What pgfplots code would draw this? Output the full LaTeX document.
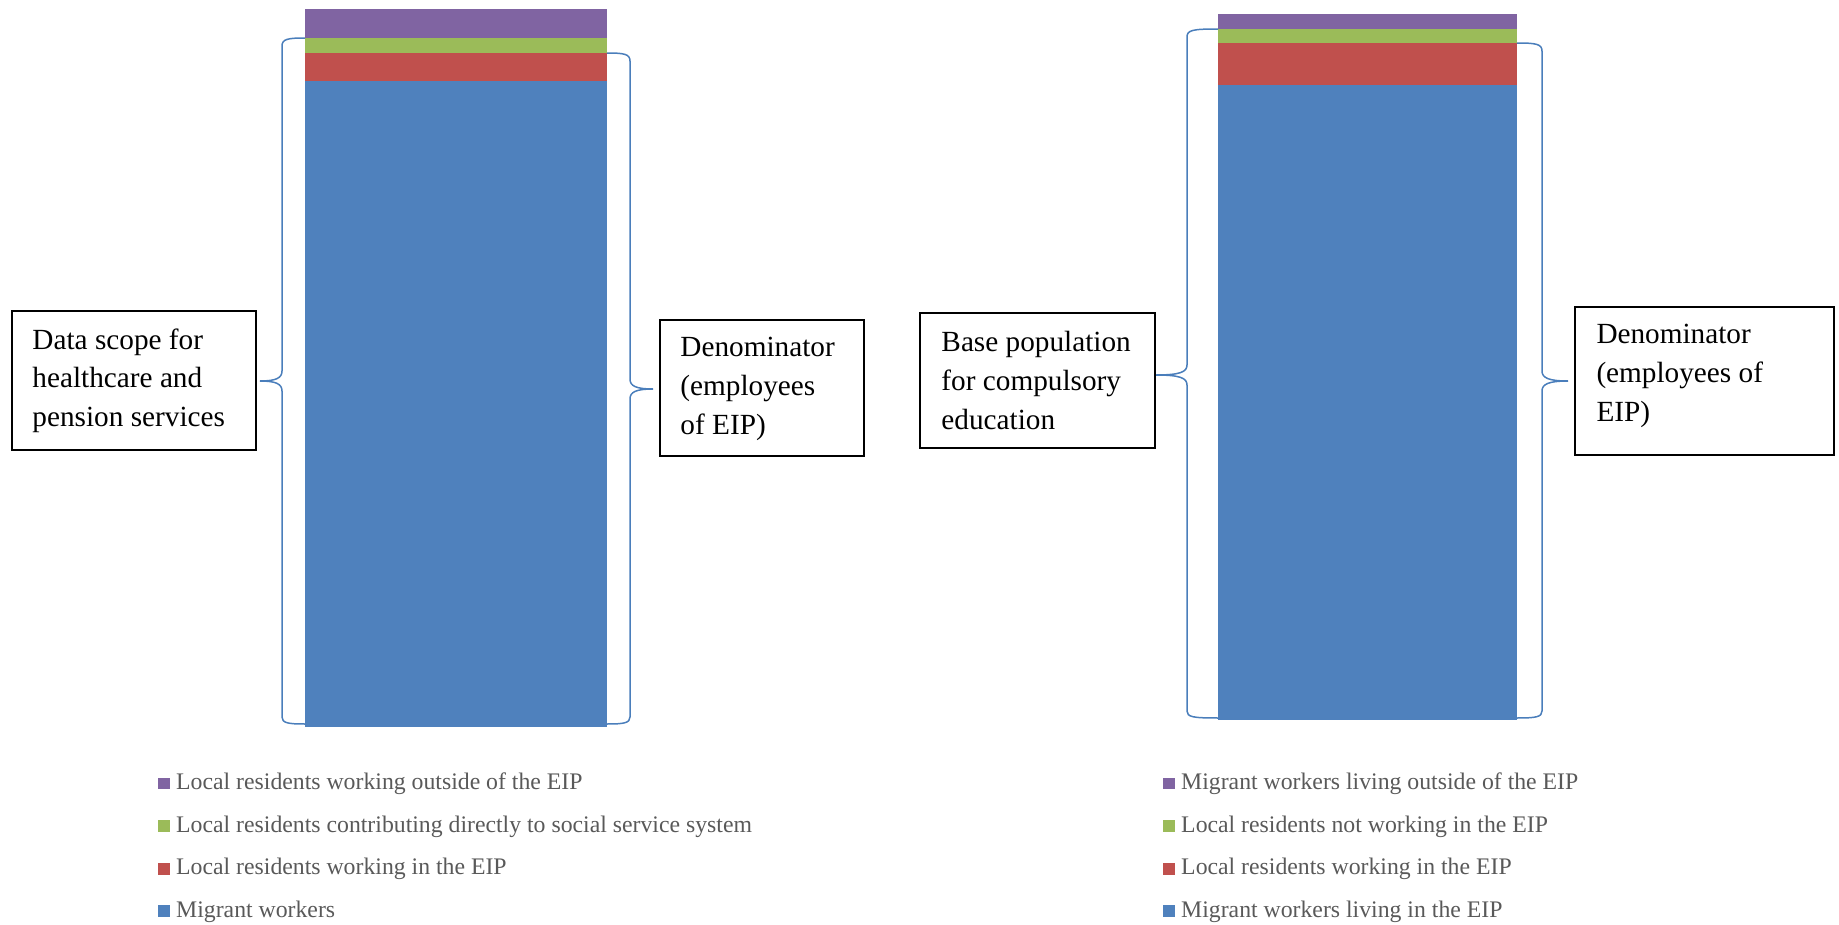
\documentclass[border=0pt]{standalone}
\usepackage{fontspec}
\setmainfont{Liberation Serif}
\usepackage{pgfplots}
\pgfplotsset{compat=1.18}

\definecolor{cPurple}{HTML}{8064A2}
\definecolor{cGreen}{HTML}{9BBB59}
\definecolor{cRed}{HTML}{C0504D}
\definecolor{cBlue}{HTML}{4F81BD}
\definecolor{cLegend}{HTML}{595959}
\definecolor{cBrace}{HTML}{4A7EBB}

\pgfplotsset{
  stackbar/.style={
    ybar stacked, hide axis, scale only axis, clip=false,
    xmin=-0.5, xmax=0.5, ymin=0, ymax=100,
    reverse legend,
    legend image code/.code={\fill[##1,draw=none] (0pt,-2.35pt) rectangle (4.7pt,2.35pt);},
    legend style={draw=none, fill=none, inner sep=0pt, row sep=8.05pt, column sep=2.4pt,
      anchor=north west, legend cell align=left,
      nodes={inner sep=0pt, text height=7pt, text depth=2pt,
        font=\fontsize{9.5}{11}\selectfont, text=cLegend}},
  },
}

\begin{document}
\begin{tikzpicture}
\useasboundingbox (0,0) rectangle (735.6pt,-369.6pt);

% ---- healthcare and pension services ----
\begin{axis}[stackbar, at={(122pt,-290.8pt)}, anchor=south west,
  width=120.8pt, height=287.2pt, bar width=120.8pt,
  legend style={at={(-0.4868,-0.0622)}}]
\addplot[fill=cBlue, draw=none] coordinates {(0,90.0)};
\addlegendentry{Migrant workers}
\addplot[fill=cRed, draw=none] coordinates {(0,3.9)};
\addlegendentry{Local residents working in the EIP}
\addplot[fill=cGreen, draw=none] coordinates {(0,2.1)};
\addlegendentry{Local residents contributing directly to social service system}
\addplot[fill=cPurple, draw=none] coordinates {(0,4.0)};
\addlegendentry{Local residents working outside of the EIP}
\end{axis}

% ---- compulsory education ----
\begin{axis}[stackbar, at={(487.2pt,-288pt)}, anchor=south west,
  width=119.6pt, height=282.4pt, bar width=119.6pt,
  legend style={at={(-0.184,-0.0732)}}]
\addplot[fill=cBlue, draw=none] coordinates {(0,89.9)};
\addlegendentry{Migrant workers living in the EIP}
\addplot[fill=cRed, draw=none] coordinates {(0,6.0)};
\addlegendentry{Local residents working in the EIP}
\addplot[fill=cGreen, draw=none] coordinates {(0,2.0)};
\addlegendentry{Local residents not working in the EIP}
\addplot[fill=cPurple, draw=none] coordinates {(0,2.1)};
\addlegendentry{Migrant workers living outside of the EIP}
\end{axis}

\begin{scope}[x=0.4pt, y=-0.4pt]
  % braces
  \begin{scope}[draw=cBrace, line width=0.6pt]
    % left of first bar, point to the left
    \draw (305,38) .. controls (288,38) and (282,39) .. (282,46)
      -- (282,371) .. controls (282,378) and (276,381) .. (260,381)
      .. controls (276,381) and (282,384) .. (282,391)
      -- (282,717) .. controls (282,723) and (288,724) .. (305,724);
    % right of first bar, point to the right
    \draw (607,53) .. controls (624,53) and (630,54) .. (630,61)
      -- (630,379) .. controls (630,386) and (636,389) .. (653,389)
      .. controls (636,389) and (630,392) .. (630,399)
      -- (630,717) .. controls (630,723) and (624,724) .. (607,724);
    % left of second bar
    \draw (1218,29) .. controls (1193,29) and (1187,30) .. (1187,37)
      -- (1187,365) .. controls (1187,372) and (1180,375) .. (1156,375)
      .. controls (1180,375) and (1187,378) .. (1187,385)
      -- (1187,711) .. controls (1187,717) and (1193,718) .. (1218,718);
    % right of second bar
    \draw (1517,43) .. controls (1536,43) and (1542,44) .. (1542,51)
      -- (1542,371) .. controls (1542,378) and (1549,381) .. (1568,381)
      .. controls (1549,381) and (1542,384) .. (1542,391)
      -- (1542,711) .. controls (1542,717) and (1536,718) .. (1517,718);
  \end{scope}

  % text boxes
  \begin{scope}[line width=0.8pt]
    \draw (12,311) rectangle (256,450);
    \draw (660,320) rectangle (864,456);
    \draw (920,313) rectangle (1155,448);
    \draw (1575,307) rectangle (1834,455);
  \end{scope}
  \begin{scope}[every node/.style={anchor=north west, inner sep=0pt, align=left,
      font=\fontsize{11.7}{15.5}\selectfont}]
    \node at (32,328) {Data scope for\\healthcare and\\pension services};
    \node at (680,337) {Denominator\\(employees\\of EIP)};
    \node at (941,331) {Base population\\for compulsory\\education};
    \node at (1596,324) {Denominator\\(employees of\\EIP)};
  \end{scope}
\end{scope}
\end{tikzpicture}
\end{document}
